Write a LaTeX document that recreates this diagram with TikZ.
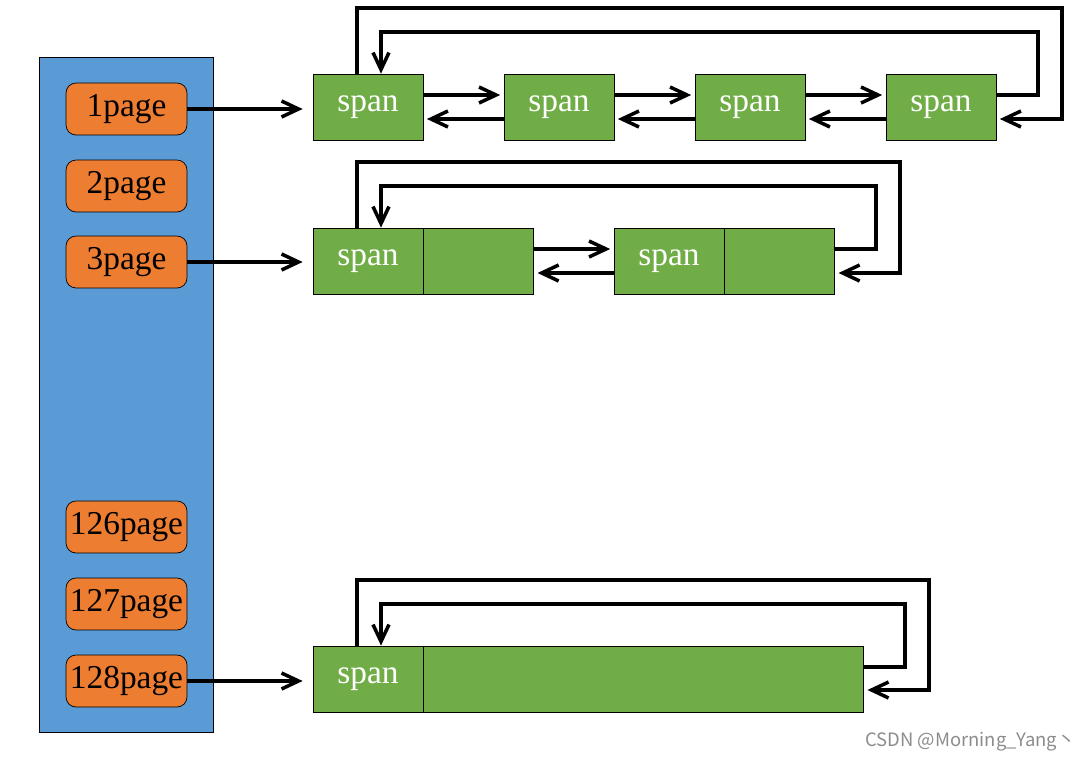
\documentclass[tikz,border=0pt]{standalone}
\usepackage{fontspec}
\setmainfont{Liberation Serif}
\newfontfamily\cjk{Noto Sans CJK SC}
\usepackage{tikz}
\usetikzlibrary{arrows.meta,positioning}

\definecolor{listblue}{HTML}{5B9BD5}
\definecolor{pageorange}{HTML}{ED7D31}
\definecolor{spangreen}{HTML}{70AD47}

\begin{document}
\begin{tikzpicture}[x=0.02cm, y=-0.02cm,
	>={Straight Barb[length=3.4mm,width=3.2mm]},
	pagebox/.style={draw, fill=pageorange, rounded corners=0.2cm, minimum width=2.42cm, minimum height=1.04cm, inner sep=0pt, font=\fontsize{19}{22}\selectfont},
	spanbox/.style={draw, fill=spangreen, minimum width=2.2cm, minimum height=1.32cm, inner sep=0pt, text=white, font=\fontsize{19}{22}\selectfont},
	tailbox/.style={draw, fill=spangreen, minimum height=1.32cm, inner sep=0pt},
	link/.style={->, line width=2pt}]
	\useasboundingbox (0,0) rectangle (1090,761);

	% page list
	\node[draw, fill=listblue, minimum width=3.48cm, minimum height=13.5cm, inner sep=0pt] (list) at (126,394.5) {};
	\foreach \n/\y in {1/109, 2/186, 3/262, 126/527, 127/604, 128/681}
		\node[pagebox] (p\n) at (126.5,\y) {\n page};

	% 1 page spans
	\foreach \i/\x in {1/368, 2/559, 3/750, 4/941}
		\node[spanbox] (s1\i) at (\x,107) {span};
	\foreach \i/\j in {1/2, 2/3, 3/4} {
		\draw[link] ([yshift=0.24cm]s1\i.east) -- ([yshift=0.24cm,xshift=-2pt]s1\j.west);
		\draw[link] ([yshift=-0.24cm]s1\j.west) -- ([yshift=-0.24cm,xshift=2pt]s1\i.east);
	}
	\draw[link] ([xshift=-0.22cm]s11.north) |- (1062,8) |- ([yshift=-0.24cm,xshift=2pt]s14.east);
	\draw[link] ([yshift=0.24cm]s14.east) -| (1038,32) -| ([xshift=0.26cm]s11.north);

	% 3 page spans
	\node[spanbox] (s21) at (368,261) {span};
	\node[tailbox, minimum width=2.2cm, right=0pt of s21] (t21) {};
	\node[spanbox] (s22) at (669,261) {span};
	\node[tailbox, minimum width=2.2cm, right=0pt of s22] (t22) {};
	\draw[link] ([yshift=0.24cm]t21.east) -- ([yshift=0.24cm,xshift=-2pt]s22.west);
	\draw[link] ([yshift=-0.24cm]s22.west) -- ([yshift=-0.24cm,xshift=2pt]t21.east);
	\draw[link] ([xshift=-0.22cm]s21.north) |- (900,162) |- ([yshift=-0.24cm,xshift=2pt]t22.east);
	\draw[link] ([yshift=0.24cm]t22.east) -| (876,186) -| ([xshift=0.26cm]s21.north);

	% 128 page span
	\node[spanbox] (s31) at (368,679) {span};
	\node[tailbox, minimum width=8.8cm, right=0pt of s31] (t31) {};
	\draw[link] ([xshift=-0.22cm]s31.north) |- (929,580) |- ([yshift=-0.22cm,xshift=2pt]t31.east);
	\draw[link] ([yshift=0.24cm]t31.east) -| (905,604) -| ([xshift=0.26cm]s31.north);

	% page -> span
	\draw[link, shorten >=0.2cm] (p1) -- (p1 -| s11.west);
	\draw[link, shorten >=0.2cm] (p3) -- (p3 -| s21.west);
	\draw[link, shorten >=0.2cm] (p128) -- (p128 -| s31.west);

	\node[text=black!45, font=\cjk\fontsize{10.5}{12}\selectfont, anchor=east] (wm) at (1082,742) {CSDN @Morning\_Yang丶};
\end{tikzpicture}
\end{document}
